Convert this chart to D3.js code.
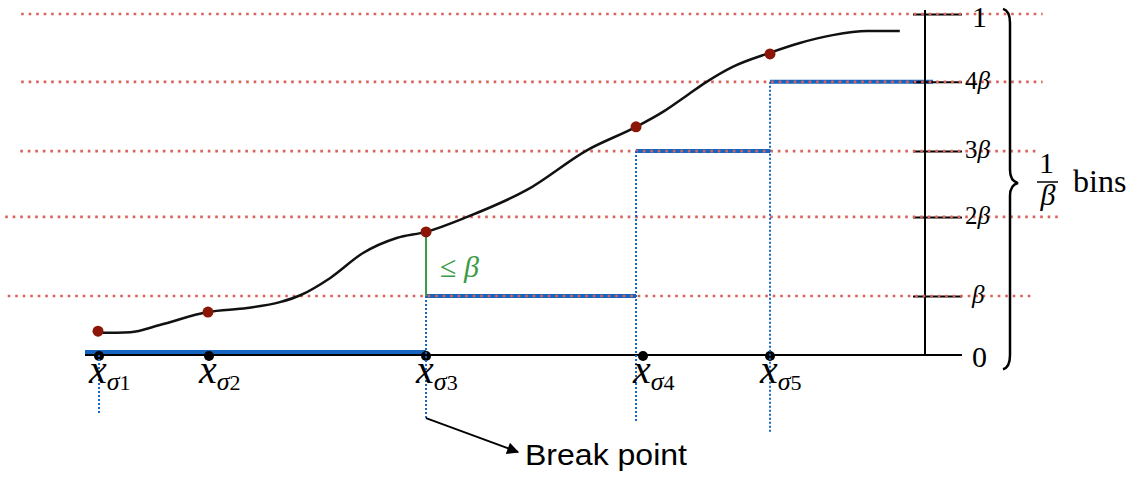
<!DOCTYPE html>
<html><head><meta charset="utf-8">
<script src="https://cdn.jsdelivr.net/npm/d3@7"></script>
<style>html,body{margin:0;padding:0;background:#fff;}svg{display:block;}
.serif{font-family:"Liberation Serif","Times New Roman",serif;}
.sans{font-family:"Liberation Sans",Arial,sans-serif;}
</style>
</head><body>
<svg id="c" width="1140" height="477"></svg>
<script>
// ---- data ----
const levelValues = [0, 17.3, 40.5, 59.8, 80.1, 100];
const levelLabelsNum = ["0", "", "2", "3", "4", "1"];
const levelLabelsBeta = [false, true, true, true, true, false];
const curveX = [1.55, 5.4, 8.9, 14.6, 19.3, 23.2, 25.7, 29.2, 33.1, 37.1, 40.6, 45.5, 52.6, 59.8, 65.6, 68.8, 71.7, 74.0, 77.1, 81.5, 85.1, 89.0, 93.1, 97.0];
const curveY = [6.5, 6.7, 8.8, 12.6, 13.8, 15.5, 17.6, 22.6, 29.9, 34.3, 36.1, 40.5, 48.4, 60.1, 66.9, 71.3, 76.2, 80.1, 84.5, 88.6, 91.5, 93.8, 95.0, 95.0];
const sigmaX = [1.67, 14.76, 40.6, 66.43, 81.55];
const sigmaIdx = ["1", "2", "3", "4", "5"];
const pointX = [1.55, 14.64, 40.6, 65.6, 81.55];
const pointY = [7.0, 12.6, 36.1, 66.9, 88.3];
const stepStart = [0, 40.6, 65.6, 81.55];
const stepEnd = [40.6, 65.6, 81.55, 100.95];
const stepLevel = [0, 17.3, 59.8, 80.1];
const breakX = [1.67, 40.6, 65.6, 81.55];
const breakTop = [0, 17.3, 59.8, 80.1];
const breakBottom = [-17, -19, -19.9, -22.6];
const gridLevels = [17.3, 40.5, 59.8, 80.1, 100];
const gridFrom = [-9.2, -9.5, -7.7, -7.6, -7.6];
const gridTo = [112.7, 115.8, 113.7, 114.0, 114.0];
const gapX = 40.6, gapLow = 17.3, gapHigh = 36.1;

// ---- scales ----
const x = d3.scaleLinear().domain([0, 100]).range([85, 925]);
const y = d3.scaleLinear().domain([0, 100]).range([355, 14]);

const svg = d3.select("#c");
const BLUE = "#1565c0", RED = "#d9625c", DARK = "#8b1608", GREEN = "#3a9a45";

// blue steps
svg.append("g").selectAll("line").data(stepStart).join("line")
  .attr("x1", (d) => x(d)).attr("x2", (d, i) => x(stepEnd[i]))
  .attr("y1", (d, i) => y(stepLevel[i]) - (i === 0 ? 3 : 0))
  .attr("y2", (d, i) => y(stepLevel[i]) - (i === 0 ? 3 : 0))
  .attr("stroke", BLUE).attr("stroke-width", 4);

// x axis line
svg.append("line").attr("x1", x(0)).attr("x2", x(104.4))
  .attr("y1", y(0)).attr("y2", y(0)).attr("stroke", "#000").attr("stroke-width", 2);

// right axis
svg.append("line").attr("x1", x(100)).attr("x2", x(100))
  .attr("y1", y(0)).attr("y2", y(101.2)).attr("stroke", "#000").attr("stroke-width", 2);
const ax = svg.append("g").attr("transform", `translate(${x(98.57)},0)`)
  .call(d3.axisRight(y).tickValues(levelValues.slice(1)).tickSize(x(104.4) - x(98.57)).tickFormat(""));
ax.select(".domain").remove();
ax.selectAll(".tick line").attr("stroke", "#000").attr("stroke-width", 2);

// green gap
svg.append("line").attr("x1", x(gapX)).attr("x2", x(gapX))
  .attr("y1", y(gapLow)).attr("y2", y(gapHigh)).attr("stroke", GREEN).attr("stroke-width", 2);

// red dotted grid
svg.append("g").selectAll("line").data(gridLevels).join("line")
  .attr("x1", (d, i) => x(gridFrom[i])).attr("x2", (d, i) => x(gridTo[i]))
  .attr("y1", (d) => y(d)).attr("y2", (d) => y(d))
  .attr("stroke", RED).attr("stroke-width", 2.6).attr("stroke-dasharray", "2.6,4.9");

// curve
svg.append("path").datum(curveX.map((d, i) => [d, curveY[i]]))
  .attr("d", d3.line().x((d) => x(d[0])).y((d) => y(d[1])).curve(d3.curveMonotoneX))
  .attr("fill", "none").attr("stroke", "#111").attr("stroke-width", 2.5);

// sigma dots on axis
svg.append("g").selectAll("circle").data(sigmaX).join("circle")
  .attr("cx", (d) => x(d)).attr("cy", y(0) + 1).attr("r", 5).attr("fill", "#000");

// blue dotted verticals
svg.append("g").selectAll("line").data(breakX).join("line")
  .attr("x1", (d) => x(d)).attr("x2", (d) => x(d))
  .attr("y1", (d, i) => y(breakTop[i])).attr("y2", (d, i) => y(breakBottom[i]))
  .attr("stroke", BLUE).attr("stroke-width", 2).attr("stroke-dasharray", "2,2");

// red points
svg.append("g").selectAll("circle").data(pointX).join("circle")
  .attr("cx", (d) => x(d)).attr("cy", (d, i) => y(pointY[i])).attr("r", 5.5).attr("fill", DARK);

// tick labels
const tl = svg.append("g").attr("class", "serif");
levelValues.forEach((v, i) => {
  const big = (i === 0 || i === 5);
  const t = tl.append("text").attr("x", big ? 972 : (levelLabelsNum[i] ? 965 : 972))
    .attr("y", y(v) + (big ? (i === 5 ? 13 : 12) : 7)).attr("font-size", big ? 30 : 25);
  if (levelLabelsNum[i]) t.append("tspan").text(levelLabelsNum[i]);
  if (levelLabelsBeta[i]) t.append("tspan").attr("font-style", "italic").text("β");
});

// brace
const bt = y(101.5), bb = y(-4.2), bm = 183;
svg.append("path")
  .attr("d", `M1003,${bt} Q1010,${bt + 2} 1010,${bt + 14} L1010,${bm - 13} Q1010,${bm - 2} 1018,${bm} Q1010,${bm + 2} 1010,${bm + 13} L1010,${bb - 14} Q1010,${bb - 2} 1003,${bb}`)
  .attr("fill", "none").attr("stroke", "#000").attr("stroke-width", 2.5);

// 1/beta bins
svg.append("text").attr("class", "serif").attr("x", 1046.5).attr("y", 173).attr("text-anchor", "middle")
  .attr("font-size", 30).text("1");
svg.append("line").attr("x1", 1037).attr("x2", 1058).attr("y1", 182).attr("y2", 182)
  .attr("stroke", "#000").attr("stroke-width", 1.5);
svg.append("text").attr("class", "serif").attr("x", 1048).attr("y", 205).attr("text-anchor", "middle")
  .attr("font-size", 30).attr("font-style", "italic").text("β");
svg.append("text").attr("class", "serif").attr("x", 1073).attr("y", 192)
  .attr("font-size", 32).text("bins");

// green label
const g = svg.append("text").attr("class", "serif").attr("x", 440).attr("y", 277)
  .attr("font-size", 30).attr("fill", GREEN);
g.append("tspan").text("≤ ");
g.append("tspan").attr("font-style", "italic").text("β");

// x labels
sigmaX.forEach((v, i) => {
  const t = svg.append("text").attr("class", "serif").attr("x", x(v) - 10).attr("y", 383);
  t.append("tspan").attr("font-style", "italic").attr("font-size", 40).text("x");
  t.append("tspan").attr("font-style", "italic").attr("font-size", 26).attr("dy", 7).text("σ");
  t.append("tspan").attr("font-size", 22).text(sigmaIdx[i]);
});

// arrow + Break point
svg.append("defs").append("marker").attr("id", "ah").attr("viewBox", "0 0 10 10")
  .attr("refX", 9).attr("refY", 5).attr("markerWidth", 14).attr("markerHeight", 12)
  .attr("markerUnits", "userSpaceOnUse").attr("orient", "auto")
  .append("path").attr("d", "M0,0 L10,5 L0,10 z").attr("fill", "#000");
svg.append("line").attr("x1", x(40.6)).attr("y1", y(-18.5)).attr("x2", 518).attr("y2", 452)
  .attr("stroke", "#000").attr("stroke-width", 2).attr("marker-end", "url(#ah)");
svg.append("text").attr("class", "sans").attr("x", 525).attr("y", 465)
  .attr("font-size", 29).attr("textLength", 162).attr("lengthAdjust", "spacingAndGlyphs").text("Break point");
</script>
</body></html>
